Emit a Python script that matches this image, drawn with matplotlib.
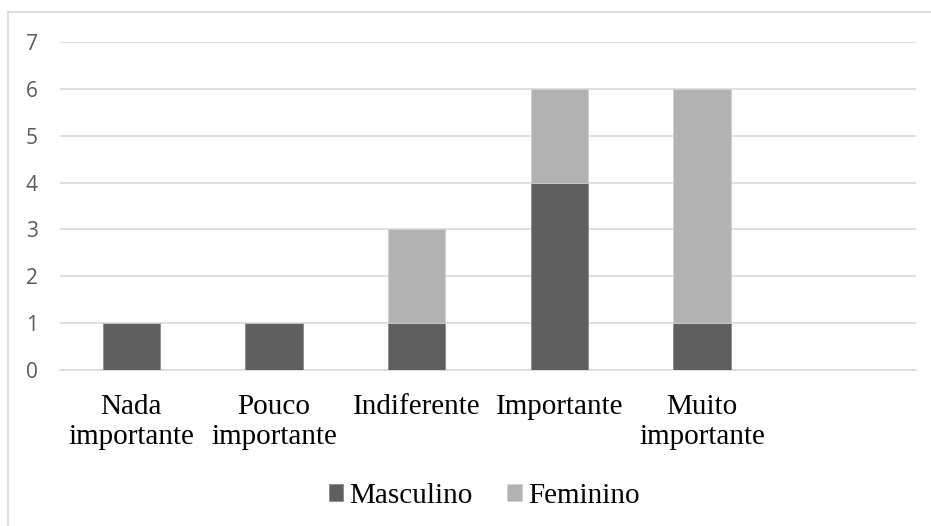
import matplotlib
matplotlib.use("Agg")
import matplotlib.pyplot as plt
from matplotlib.lines import Line2D
import numpy as np

categories = ["Nada\nimportante", "Pouco\nimportante", "Indiferente", "Importante", "Muito\nimportante", ""]
masculino = [1, 1, 1, 4, 1, 0]
feminino = [0, 0, 2, 2, 5, 0]
yticks = [0, 1, 2, 3, 4, 5, 6, 7]

W, H = 931, 526
fig = plt.figure(figsize=(W / 100, H / 100), dpi=100)
ax = fig.add_axes([60 / W, (H - 370) / H, (916 - 60) / W, (370 - 42) / H])

x = np.arange(len(categories))
c_m = "#5f5f5f"
c_f = "#b2b2b2"
ax.bar(x, masculino, width=0.4, color=c_m, edgecolor="#8a8a8a", linewidth=0.6, label="Masculino", zorder=3)
ax.bar(x, feminino, width=0.4, bottom=masculino, color=c_f, edgecolor="#d0d0d0", linewidth=0.6, label="Feminino", zorder=3)

ax.set_xlim(-0.5, len(categories) - 0.5)
ax.set_ylim(0, 7)
ax.set_yticks(yticks)
ax.yaxis.grid(True, color="#d9d9d9", linewidth=1.2, zorder=0)
ax.set_axisbelow(True)
for s in ["top", "right", "left"]:
    ax.spines[s].set_visible(False)
ax.spines["bottom"].set_color("#d9d9d9")
ax.spines["bottom"].set_linewidth(1.2)
ax.tick_params(axis="y", length=0, pad=16, labelsize=15, labelcolor="#595959")
for t in ax.get_yticklabels():
    t.set_fontfamily("Open Sans")
ax.set_xticks(x)
ax.set_xticklabels(categories, fontfamily="Liberation Serif", fontsize=21, color="black", linespacing=1.2)
ax.tick_params(axis="x", length=0, pad=17)

leg = fig.legend(loc="center", bbox_to_anchor=(484 / W, (H - 496) / H), ncol=2, frameon=False,
                 prop={"family": "Liberation Serif", "size": 21}, handlelength=0.5, handleheight=0.5,
                 handletextpad=0.2, columnspacing=1.2)

fig.add_artist(Line2D([8 / W, 8 / W], [0, (H - 12) / H], transform=fig.transFigure, color="#d9d9d9", linewidth=1.2))
fig.add_artist(Line2D([8 / W, 1], [(H - 12) / H, (H - 12) / H], transform=fig.transFigure, color="#d9d9d9", linewidth=1.2))

fig.savefig("out.png", dpi=100)
